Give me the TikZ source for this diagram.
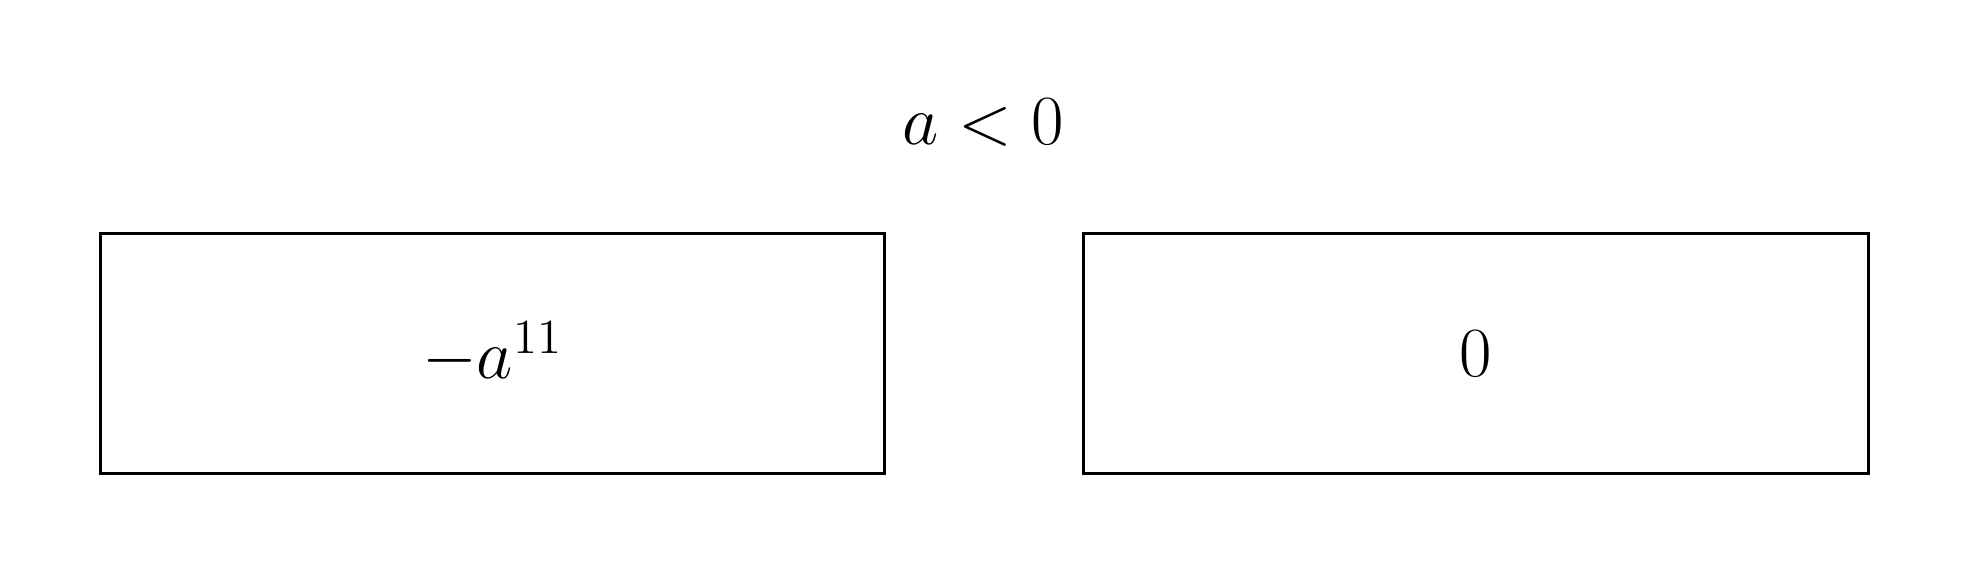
\documentclass[tikz,border=0pt]{standalone}
\begin{document}
\begin{tikzpicture}[x=0.2941pt,y=-0.2941pt,
  valbox/.style={draw=black,line width=0.88pt,minimum width=230.6pt,minimum height=70.6pt,inner sep=0pt,font=\huge},
  headtxt/.style={font=\huge,inner sep=0pt}]
\useasboundingbox (0,0) rectangle (1969,574);
\node[headtxt,anchor=base] (cond) at (983,145) {$a<0$};
\node[valbox] (left) at (492.5,353.3) {$-a^{11}$};
\node[valbox] (right) at (1476,353.3) {$0$};
\end{tikzpicture}
\end{document}
